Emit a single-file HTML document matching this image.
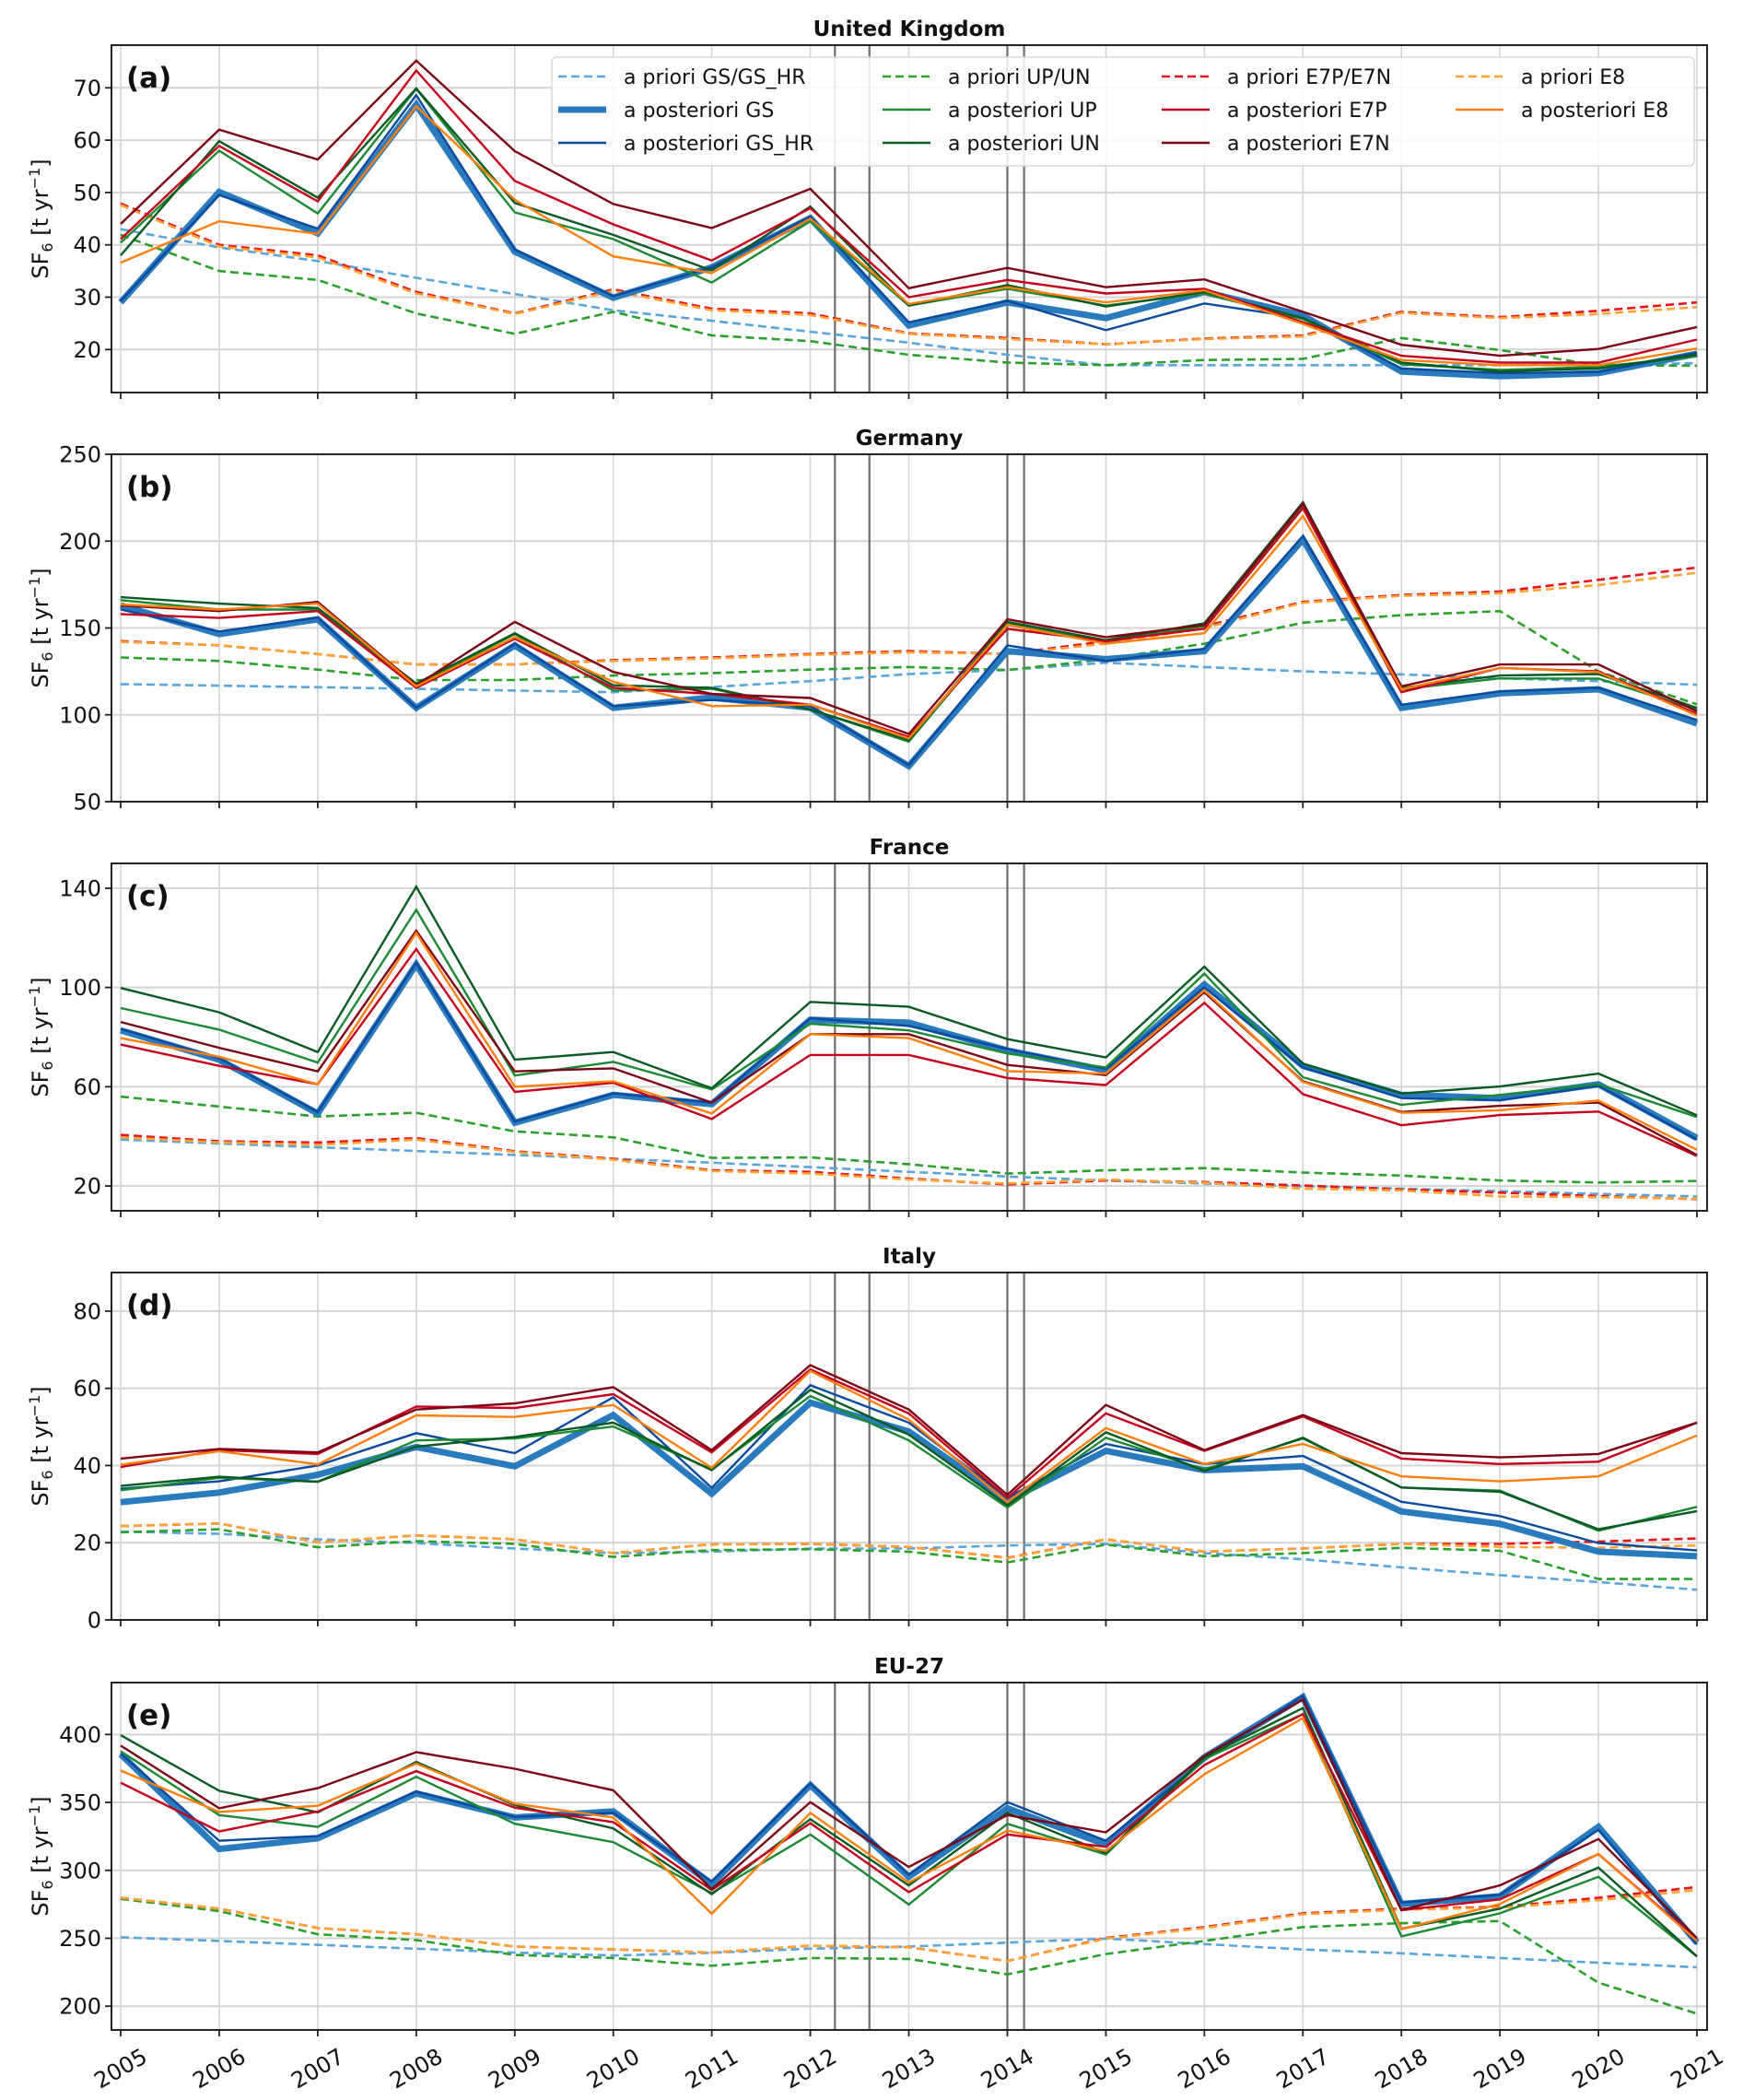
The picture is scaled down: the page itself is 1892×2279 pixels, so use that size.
<!DOCTYPE html>
<html><head><meta charset="utf-8">
<style>
html,body{margin:0;padding:0;background:#fff;}
svg{display:block;font-family:"DejaVu Sans","Liberation Sans",sans-serif;}
</style></head>
<body>
<svg id="chart" width="1892" height="2279" viewBox="0 0 1892 2279" xmlns="http://www.w3.org/2000/svg">
<rect width="1892" height="2279" fill="#fff"/>
</svg>
<script>
const years = [2005,2006,2007,2008,2009,2010,2011,2012,2013,2014,2015,2016,2017,2018,2019,2020,2021];
const markerYears = [2012.25, 2012.6, 2014.0, 2014.17];

// United Kingdom
const uk_prGS = [43,39.5,36.9,33.7,30.6,27.5,25.5,23.4,21.3,19,17,17,17,17,17,17.1,17.4];
const uk_prUP = [41.9,35,33.3,26.9,23,27.2,22.7,21.6,19,17.5,17,18,18.2,22.2,19.9,17,16.9];
const uk_prE7 = [47.9,40,38,31,26.9,31.5,27.8,26.9,23.1,22.2,21,22.1,22.7,27.2,26.2,27.4,29];
const uk_prE8 = [47.6,39.7,37.6,30.7,26.8,31.2,27.5,26.6,23,22,21,22,22.5,27,26,26.8,28.1];
const uk_GS   = [29,50.1,42.2,66.8,38.7,29.9,35.7,45.1,24.6,29,26,31,26.5,15.8,14.9,15.5,19.2];
const uk_GSHR = [29.3,49.5,43.1,68.6,39.1,30.2,35.7,45.4,25.2,29.3,23.7,28.8,26,16.4,15.5,15.7,19.4];
const uk_UP   = [40.4,58,46,69.8,46.2,41.1,32.8,44.5,28.4,31.6,28.4,30.7,25.8,17.2,16.1,16.7,18.7];
const uk_UN   = [38,59.8,49,69.9,48,41.9,35.1,47.3,28.4,32.3,28.2,31,26,17.5,15.8,16.4,19];
const uk_E7P  = [41.1,58.9,48.3,73.3,52.2,43.9,37,47,30,33.3,30.7,31.6,25.2,18.8,17.5,17.5,21.9];
const uk_E7N  = [44,62,56.3,75.2,57.9,47.8,43.2,50.7,31.7,35.6,31.9,33.4,27.2,20.9,18.8,20.1,24.3];
const uk_E8   = [36.6,44.5,42.1,66.5,48.6,37.8,34.6,45,28.7,31.9,29,31.3,24.9,18,17,17,20.2];

// Germany
const de_prGS = [117.7,116.8,115.9,115,114,113,116,119.4,123.5,125.8,130,127.5,125,123.3,121,119.4,117.3];
const de_prUP = [133,131,126,120,120,122.6,124,126,127.5,125.8,132,141,153,157.4,159.7,125,106];
const de_prE7 = [142.4,140,135,129,129,131.5,133,135,136.7,135,142.4,151,165,169,171,177.7,184.8];
const de_prE8 = [142,140,135,129,129,131,132.5,134.5,136,135,141,150,164.5,168.5,170,174.7,181.8];
const de_GS   = [163,146.5,155,104,140,104,110,104,70.5,136.7,132,136.7,201,104,112.4,114.7,95];
const de_GSHR = [160.6,148,156,104,141,105,108.5,105,71,140,131,138,203,105.8,113.5,115.5,97];
const de_UP   = [166,160.6,160.6,117,146.5,114,115,103,84.6,152.3,142,151,220.7,114.7,121,120.8,103];
const de_UN   = [167.7,164,161.5,118,147,117,115.5,103,85.5,153.5,143,152.7,222.4,115.5,122.6,123.5,104];
const de_E7P  = [158,155.8,159.7,115.5,143.8,115.5,112,105.8,87.3,149.5,142.4,149.5,219,113,127,125,100.5];
const de_E7N  = [163,159.7,165,117,153.5,124.7,112,109.7,89,155,144.7,151.8,221.6,116.4,129,129,102];
const de_E8   = [163.6,160.6,164,116.4,144.7,119,105,105.8,86.4,151.8,141,147,214.5,114.7,127,124.6,99.6];

// France
const fr_prGS = [38.7,37.1,35.6,34.1,32.5,31,29.4,27.6,25.7,23.8,22.2,21,19.9,18.9,17.9,16.8,15.8];
const fr_prUP = [56,52,48,49.5,42,39.6,31.3,31.5,28.8,25,26.3,27.2,25.4,24.2,22.2,21.4,22];
const fr_prE7 = [40.6,38,37.5,39.3,34,31,26.3,25.7,23,20.6,22.2,21.6,20.2,18.6,17.3,15.9,14.7];
const fr_prE8 = [39.6,37.6,36.6,38.7,33.7,30.6,26,25,22.6,21,22.6,21.3,18.9,18.2,15.8,15.5,14.9];
const fr_GS   = [82.7,70.9,49.2,109.3,45.5,56.7,53,87,85.8,74.6,66.6,101.2,68.4,56.7,55.4,61,39.3];
const fr_GSHR = [83.3,71.5,49.8,110,46,57.3,53.6,87.6,84.5,75.2,67.2,100,67.8,55.4,54.5,60.4,38.7];
const fr_UP   = [91.7,83,69.7,131.3,64.5,70,58.9,85.4,82.7,73.4,67.8,105.6,63.8,52.7,56.7,61,47.8];
const fr_UN   = [99.8,90,74,140.6,70.9,74,59.4,94.2,92.2,79.2,71.8,108.4,69.3,57.3,60.1,65.3,48.5];
const fr_E7P  = [77,68.4,61,115.5,57.9,61.6,47,72.8,72.8,63.5,60.7,93.8,57,44.5,48.6,50,32.1];
const fr_E7N  = [86.1,75.7,66.2,122.9,66.2,67.4,53.6,81.2,81.2,68.8,64.7,98.1,62.2,49.8,52.3,53.6,32.5];
const fr_E8   = [79.6,72.1,61,122,60,62.2,49.2,81.2,79.6,66.3,65.3,98.8,61.9,49.5,50.5,54.4,34.6];

// Italy
const it_prGS = [22.9,22.3,20.9,19.9,18.5,17.3,17.7,18.5,18.5,19.3,19.7,17.3,15.7,13.6,11.6,9.8,7.8];
const it_prUP = [22.7,23.5,18.8,20.4,19.7,16.3,18.1,18.3,17.7,14.9,19.5,16.5,17.3,18.7,17.9,10.6,10.6];
const it_prE7 = [24.3,25,20.1,21.9,20.9,17.3,19.6,19.7,18.9,16.1,20.9,17.7,18.5,19.7,19.7,20.3,21.1];
const it_prE8 = [24.3,25,20.1,21.9,20.9,17.3,19.6,19.7,18.9,16,20.9,17.7,18.5,19.7,18.9,18.7,19.3];
const it_GS   = [30.5,33,37.6,44.8,39.8,53.1,32.7,56.3,48.8,30.9,43.8,38.8,39.8,28.1,24.9,17.7,16.5];
const it_GSHR = [34,35.9,40,48.4,43.2,57.7,34.2,60.8,51.1,31.6,45.6,40.4,42.5,30.6,26.9,19.9,18];
const it_UP   = [33.6,36.8,35.8,46.5,47,50.1,39,58,46.5,29.1,47.2,39,47,34.3,33.5,23.1,29.3];
const it_UN   = [34.7,37.1,35.8,44.9,47.4,51.1,38.8,59.6,48,29.7,48.6,38.6,47.2,34.3,33.2,23.5,28.2];
const it_E7P  = [39.6,44,43,55.3,54.9,58.5,43.4,64.9,53.5,31.6,53.5,43.8,52.7,41.8,40.4,41,51.1];
const it_E7N  = [41.8,44.3,43.4,54.5,56.1,60.3,44,66,54.5,32.4,55.7,44,53.1,43.2,42.1,43,51.1];
const it_E8   = [40.2,43.7,40.3,53,52.6,55.7,39.4,64.5,51.9,30.5,49.7,40.4,45.6,37.2,35.9,37.2,47.8];

// EU-27
const eu_prGS = [250.7,248,245.2,242.3,239.5,237.3,239.3,242.3,243.9,246.8,249.8,245.7,241.8,238.9,235.5,232,228.6];
const eu_prUP = [279,270,253,248.6,237.7,235.5,229.8,235.5,234.8,223.4,238.4,248,258.2,261.1,262.7,217.3,194.5];
const eu_prE7 = [279.8,271.8,257.5,253,243.9,241.8,239.5,244.5,243.4,233.2,250.2,258.2,268.4,271.8,273,279.8,287.7];
const eu_prE8 = [279.8,271.8,257.5,253,243.9,241.8,239.5,244.5,243.4,233.2,249.8,257.5,267.7,271.1,272.5,278,285.5];
const eu_GS   = [385.5,315.7,323.6,356.6,338.9,343.4,290,362.7,295.2,345.7,318.9,383.2,427.5,275.2,280.9,332,246.8];
const eu_GSHR = [386,321.8,325.2,358,339.3,342.3,291.6,363.9,296.8,350.2,321.8,381,428.6,276.4,282,329.8,245.5];
const eu_UP   = [387.7,340.7,332,368.9,334.3,320.7,283.2,326.4,274.8,334.3,311.6,382,415,251.4,268.4,295.2,236.6];
const eu_UN   = [399.5,358.6,342.7,379.8,348,330.9,282.5,337.7,288.9,342.3,312.7,383.2,419.5,257,271.8,302,236.6];
const eu_E7P  = [364.5,328.6,343.4,373,346.1,335.5,285.5,334.8,283.9,326.4,317.3,377.5,415,270.7,278.6,312,249];
const eu_E7N  = [391.8,345.7,360.5,387,374.8,358.9,286.1,350.2,302.5,340.7,328,384.3,425.7,270.7,288.9,323,250.2];
const eu_E8   = [373.4,343,347.5,378.6,349.1,338.9,268,342.3,291.1,329.3,314.3,370.7,412,256.6,275.2,312,248];

const ticksA = [20,30,40,50,60,70];
const ticksB = [50,100,150,200,250];
const ticksC = [20,60,100,140];
const ticksD = [0,20,40,60,80];
const ticksE = [200,250,300,350,400];

const NS = "http://www.w3.org/2000/svg";
const svg = document.getElementById('chart');
function mk(tag, attrs, parent) {
  const e = document.createElementNS(NS, tag);
  for (const k in attrs) e.setAttribute(k, attrs[k]);
  (parent || svg).appendChild(e);
  return e;
}
const X0 = 121, X1 = 1853;
function xs(yr) { return 131 + (yr - 2005) * 106.94; }

const styles = {
  prGS: {c:'#5aa6dc', w:2.6, d:'9,5'},
  prUP: {c:'#2ca02c', w:2.6, d:'9,5'},
  prE7: {c:'#e8141c', w:2.6, d:'9,5'},
  prE8: {c:'#ffa333', w:2.6, d:'9,5'},
  GS:   {c:'#2a7bbd', w:7, d:null},
  GSHR: {c:'#0b4a9e', w:2.4, d:null},
  UP:   {c:'#1c8a33', w:2.4, d:null},
  UN:   {c:'#0a5a22', w:2.4, d:null},
  E7P:  {c:'#c4001c', w:2.4, d:null},
  E7N:  {c:'#7c0615', w:2.4, d:null},
  E8:   {c:'#ff7f0e', w:2.4, d:null}
};

const panels = [
  {id:'a', title:'United Kingdom', top:49, lo:11.78, hi:78.15, ticks:ticksA,
   s:{prGS:uk_prGS,prUP:uk_prUP,prE7:uk_prE7,prE8:uk_prE8,GS:uk_GS,GSHR:uk_GSHR,UP:uk_UP,UN:uk_UN,E7P:uk_E7P,E7N:uk_E7N,E8:uk_E8}},
  {id:'b', title:'Germany', top:493, lo:50, hi:250, ticks:ticksB,
   s:{prGS:de_prGS,prUP:de_prUP,prE7:de_prE7,prE8:de_prE8,GS:de_GS,GSHR:de_GSHR,UP:de_UP,UN:de_UN,E7P:de_E7P,E7N:de_E7N,E8:de_E8}},
  {id:'c', title:'France', top:937, lo:10, hi:150, ticks:ticksC,
   s:{prGS:fr_prGS,prUP:fr_prUP,prE7:fr_prE7,prE8:fr_prE8,GS:fr_GS,GSHR:fr_GSHR,UP:fr_UP,UN:fr_UN,E7P:fr_E7P,E7N:fr_E7N,E8:fr_E8}},
  {id:'d', title:'Italy', top:1381, lo:0, hi:90, ticks:ticksD,
   s:{prGS:it_prGS,prUP:it_prUP,prE7:it_prE7,prE8:it_prE8,GS:it_GS,GSHR:it_GSHR,UP:it_UP,UN:it_UN,E7P:it_E7P,E7N:it_E7N,E8:it_E8}},
  {id:'e', title:'EU-27', top:1826, lo:182.5, hi:438.2, ticks:ticksE,
   s:{prGS:eu_prGS,prUP:eu_prUP,prE7:eu_prE7,prE8:eu_prE8,GS:eu_GS,GSHR:eu_GSHR,UP:eu_UP,UN:eu_UN,E7P:eu_E7P,E7N:eu_E7N,E8:eu_E8}}
];
const H = 377;
const order = ['prGS','prUP','prE7','prE8','GS','GSHR','UP','UN','E7P','E7N','E8'];

panels.forEach((p, pi) => {
  const g = mk('g', {});
  
  
  const top = p.top, bot = top + H;
  const ys = v => bot - (v - p.lo) / (p.hi - p.lo) * H;
  const clipId = 'clip' + p.id;
  const cp = mk('clipPath', {id: clipId}, g);
  mk('rect', {x:X0, y:top, width:X1-X0, height:H}, cp);
  years.forEach(yr => {
    const l = mk('line', {x1:xs(yr), x2:xs(yr), y1:top, y2:bot, stroke:'#d4d4d4', 'stroke-width':1.6}, g);
    
    
  });
  p.ticks.forEach(t => {
    const l = mk('line', {x1:X0, x2:X1, y1:ys(t), y2:ys(t), stroke:'#d4d4d4', 'stroke-width':2}, g);
    
    
    const tk = mk('line', {x1:X0-7, x2:X0, y1:ys(t), y2:ys(t), stroke:'#222', 'stroke-width':1.8}, g);
    
    
    const tx = mk('text', {x:X0-11, y:ys(t)+8.5, 'text-anchor':'end', 'font-size':24, fill:'#111'}, g);
    tx.textContent = t;
    
    
  });
  markerYears.forEach(m => {
    const l = mk('line', {x1:xs(m), x2:xs(m), y1:top, y2:bot, stroke:'#6e6e6e', 'stroke-width':2.2}, g);
    
    
  });
  const sg = mk('g', {'clip-path':'url(#' + clipId + ')'}, g);
  order.forEach(k => {
    const st = styles[k];
    const vals = p.s[k];
    const pts = vals.map((v, i) => xs(years[i]).toFixed(1) + ',' + ys(v).toFixed(1)).join(' ');
    const pl = mk('polyline', {points:pts, fill:'none', stroke:st.c, 'stroke-width':st.w, 'stroke-linejoin':'miter', 'stroke-linecap':'butt'}, sg);
    if (st.d) pl.setAttribute('stroke-dasharray', st.d);
    
    
  });
  const fr = mk('rect', {x:X0, y:top, width:X1-X0, height:H, fill:'none', stroke:'#222', 'stroke-width':2}, g);
  
  
  years.forEach(yr => {
    const tk = mk('line', {x1:xs(yr), x2:xs(yr), y1:bot, y2:bot+7, stroke:'#222', 'stroke-width':1.8}, g);
    
    
    if (pi === panels.length - 1) {
      const cx = xs(yr), cy = bot + 42;
      const tx = mk('text', {x:cx, y:cy+8, 'text-anchor':'middle', 'font-size':24, fill:'#111', transform:'rotate(-30 ' + cx + ' ' + cy + ')'}, g);
      tx.textContent = yr;
      
      
    }
  });
  const tt = mk('text', {x:(X0+X1)/2, y:top-10, 'text-anchor':'middle', 'font-size':23, 'font-weight':'bold', fill:'#111'}, g);
  tt.textContent = p.title;
  
  
  const pl = mk('text', {x:137, y:top+46, 'font-size':31, 'font-weight':'bold', fill:'#111'}, g);
  pl.textContent = '(' + p.id + ')';
  
  
  const cy = top + H/2;
  const yl = mk('text', {x:44, y:cy, 'text-anchor':'middle', 'font-size':24, fill:'#111', transform:'rotate(-90 44 ' + cy + ')', dy:'8'}, g);
  yl.innerHTML = 'SF<tspan font-size="16" dy="5">6</tspan><tspan dy="-5"> [t yr</tspan><tspan font-size="16" dy="-9">−1</tspan><tspan dy="9">]</tspan>';
  
  
});

const legItems = [
  ['prGS','a priori GS/GS_HR',606,83],['GS','a posteriori GS',606,119],['GSHR','a posteriori GS_HR',606,155],
  ['prUP','a priori UP/UN',958,83],['UP','a posteriori UP',958,119],['UN','a posteriori UN',958,155],
  ['prE7','a priori E7P/E7N',1261,83],['E7P','a posteriori E7P',1261,119],['E7N','a posteriori E7N',1261,155],
  ['prE8','a priori E8',1580,83],['E8','a posteriori E8',1580,119]
];
const lg = mk('g', {});


const lb = mk('rect', {x:599, y:62, width:1240, height:118, rx:5, fill:'rgba(255,255,255,0.85)', stroke:'#d8d8d8', 'stroke-width':1.5}, lg);


legItems.forEach(it => {
  const st = styles[it[0]];
  const e = mk('g', {}, lg);
  
  
  const ln = mk('line', {x1:it[2], x2:it[2]+52, y1:it[3], y2:it[3], stroke:st.c, 'stroke-width':st.w}, e);
  if (st.d) ln.setAttribute('stroke-dasharray', st.d);
  const tx = mk('text', {x:it[2]+71, y:it[3]+8, 'font-size':22, fill:'#111'}, e);
  tx.textContent = it[1];
});
</script>
</body></html>
